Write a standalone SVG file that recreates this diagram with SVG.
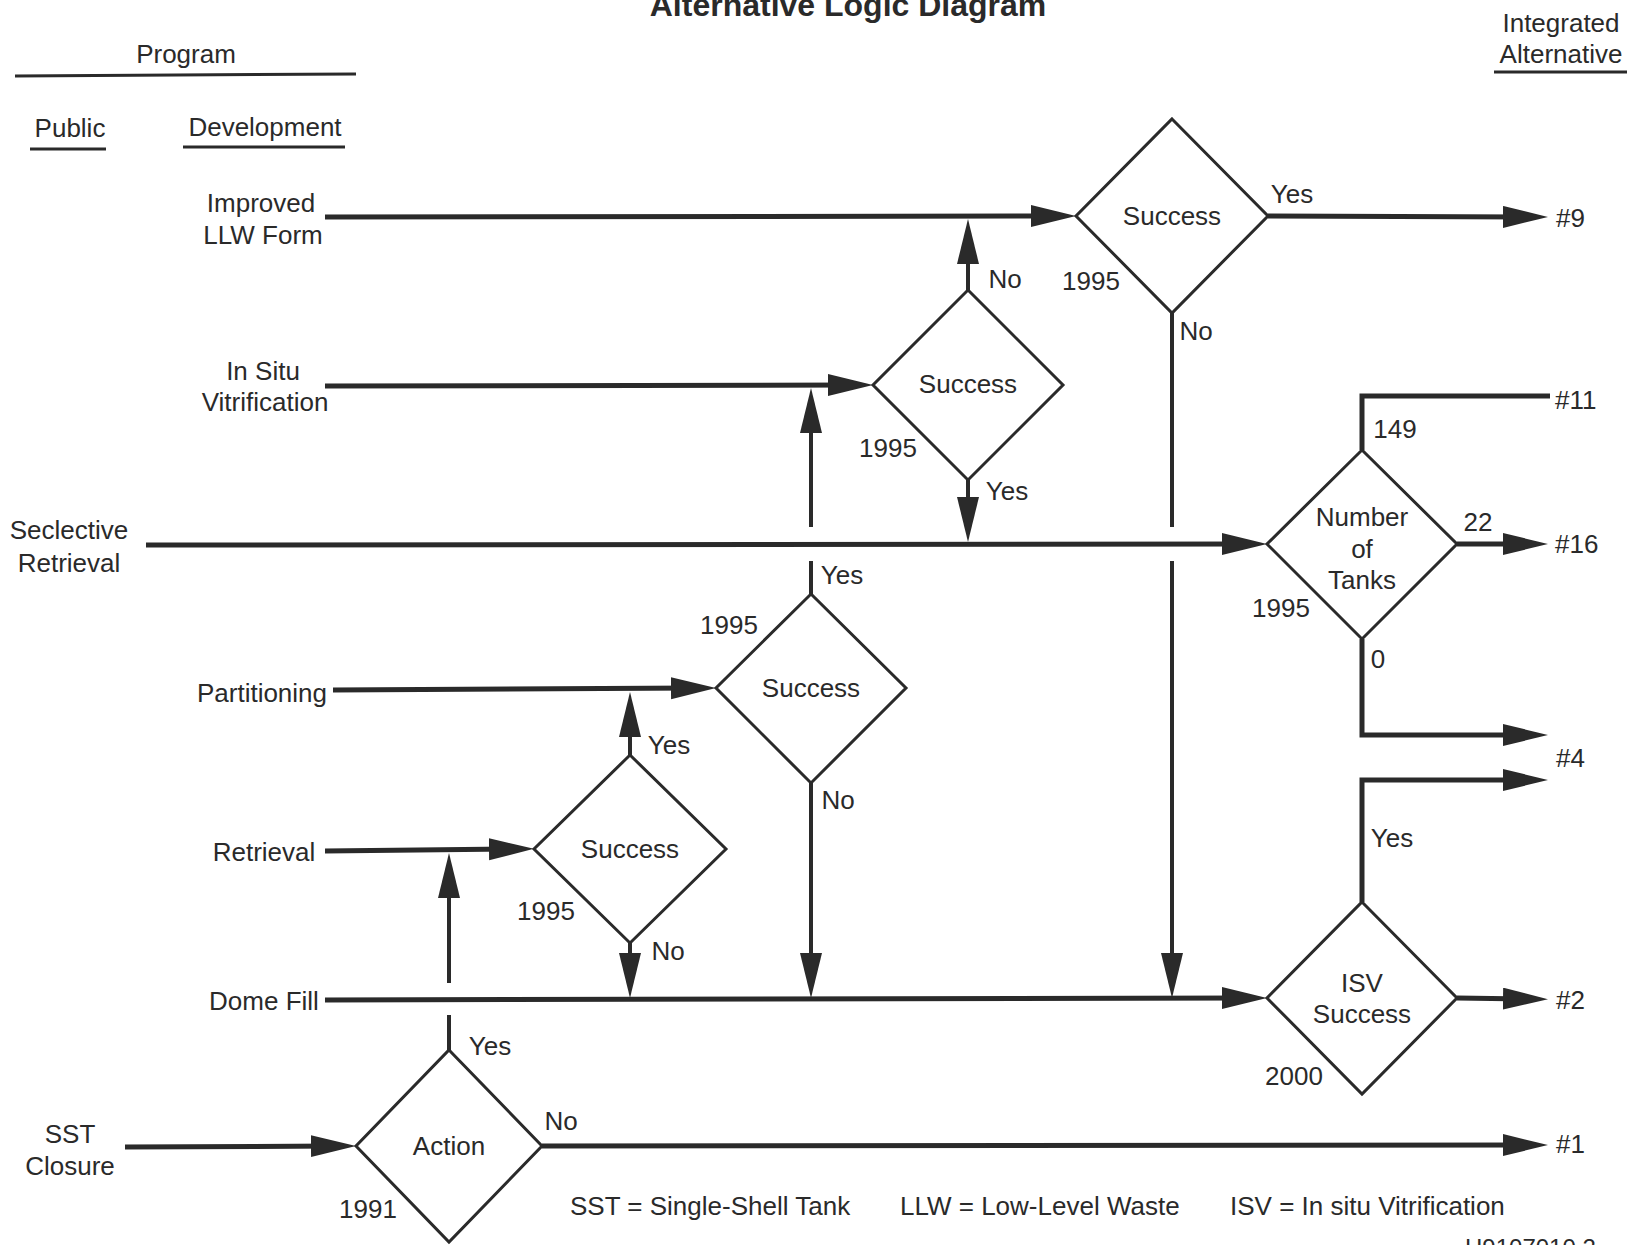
<svg xmlns="http://www.w3.org/2000/svg" width="1634" height="1245" viewBox="0 0 1634 1245">
  <style>
    text { font-family: "Liberation Sans", Arial, sans-serif; font-size: 26px; fill: #2a2a2a; }
    .c { text-anchor: middle; }
    .title { font-size: 32px; font-weight: bold; }
    .id { font-size: 24px; }
    .dia { fill: #fff; stroke: #2a2a2a; stroke-width: 3; stroke-linejoin: miter; }
    .h { fill: none; stroke: #2a2a2a; stroke-width: 5; }
    .v { fill: none; stroke: #2a2a2a; stroke-width: 4; }
    .rule { stroke: #2a2a2a; stroke-width: 3; }
  </style>
  <defs>
    <!-- solid arrowhead; tip lies 20px beyond the line end -->
    <marker id="arrow" markerUnits="userSpaceOnUse" markerWidth="46" markerHeight="24" refX="25" refY="11" orient="auto">
      <path d="M0,0 L45,11 L0,22 z" fill="#2a2a2a"/>
    </marker>
  </defs>
  <rect width="1634" height="1245" fill="#fff"/>

  <!-- headings -->
  <g id="header">
    <text class="title c" x="848" y="16">Alternative Logic Diagram</text>
    <text class="c" x="186" y="63">Program</text>
    <line class="rule" x1="15" y1="76" x2="356" y2="74"/>
    <text class="c" x="70" y="137">Public</text>
    <line class="rule" x1="30" y1="149" x2="106" y2="149"/>
    <text class="c" x="265" y="136">Development</text>
    <line class="rule" x1="183" y1="147" x2="345" y2="147"/>
    <text class="c" x="1561" y="32">Integrated</text>
    <text class="c" x="1561" y="63">Alternative</text>
    <line class="rule" x1="1494" y1="72" x2="1627" y2="72"/>
  </g>

  <!-- program labels -->
  <g id="programs">
    <text class="c" x="261" y="212">Improved</text>
    <text class="c" x="263" y="244">LLW Form</text>
    <text class="c" x="263" y="380">In Situ</text>
    <text class="c" x="265" y="411">Vitrification</text>
    <text class="c" x="69" y="539">Seclective</text>
    <text class="c" x="69" y="572">Retrieval</text>
    <text class="c" x="262" y="702">Partitioning</text>
    <text class="c" x="264" y="861">Retrieval</text>
    <text class="c" x="264" y="1010">Dome Fill</text>
    <text class="c" x="70" y="1143">SST</text>
    <text class="c" x="70" y="1175">Closure</text>
  </g>

  <!-- connectors -->
  <g id="connectors">
    <!-- horizontal program lines -->
    <line class="h" x1="325" y1="217" x2="1056" y2="216" marker-end="url(#arrow)"/>
    <line class="h" x1="1268" y1="216" x2="1528" y2="217" marker-end="url(#arrow)"/>
    <line class="h" x1="325" y1="386" x2="853" y2="385" marker-end="url(#arrow)"/>
    <line class="h" x1="146" y1="545" x2="1247" y2="544" marker-end="url(#arrow)"/>
    <line class="h" x1="1457" y1="544" x2="1528" y2="544" marker-end="url(#arrow)"/>
    <line class="h" x1="333" y1="690" x2="696" y2="688" marker-end="url(#arrow)"/>
    <line class="h" x1="325" y1="851" x2="514" y2="849" marker-end="url(#arrow)"/>
    <line class="h" x1="325" y1="1000" x2="1247" y2="998" marker-end="url(#arrow)"/>
    <line class="h" x1="1457" y1="998" x2="1528" y2="999" marker-end="url(#arrow)"/>
    <line class="h" x1="125" y1="1147" x2="336" y2="1146" marker-end="url(#arrow)"/>
    <line class="h" x1="542" y1="1146" x2="1528" y2="1145" marker-end="url(#arrow)"/>
    <!-- number-of-tanks branches -->
    <polyline class="h" points="1362,450 1362,396 1550,396"/>
    <polyline class="h" points="1362,639 1362,735 1528,735" marker-end="url(#arrow)"/>
    <!-- ISV success yes branch -->
    <polyline class="h" points="1362,902 1362,780 1528,780" marker-end="url(#arrow)"/>

    <!-- vertical links -->
    <line class="v" x1="968" y1="290" x2="968" y2="239" marker-end="url(#arrow)"/>
    <line class="v" x1="968" y1="480" x2="968" y2="522" marker-end="url(#arrow)"/>
    <line class="v" x1="1172" y1="313" x2="1172" y2="527"/>
    <line class="v" x1="1172" y1="561" x2="1172" y2="978" marker-end="url(#arrow)"/>
    <line class="v" x1="811" y1="527" x2="811" y2="408" marker-end="url(#arrow)"/>
    <line class="v" x1="811" y1="561" x2="811" y2="594"/>
    <line class="v" x1="811" y1="783" x2="811" y2="978" marker-end="url(#arrow)"/>
    <line class="v" x1="630" y1="755" x2="630" y2="712" marker-end="url(#arrow)"/>
    <line class="v" x1="630" y1="943" x2="630" y2="978" marker-end="url(#arrow)"/>
    <line class="v" x1="449" y1="983" x2="449" y2="873" marker-end="url(#arrow)"/>
    <line class="v" x1="449" y1="1015" x2="449" y2="1050"/>
  </g>

  <!-- decision: LLW form success -->
  <g id="llw-success">
    <polygon class="dia" points="1172,119 1268,216 1172,313 1076,216"/>
    <text class="c" x="1172" y="225">Success</text>
    <text class="c" x="1091" y="290">1995</text>
    <text class="c" x="1292" y="203">Yes</text>
    <text class="c" x="1196" y="340">No</text>
  </g>

  <!-- decision: in situ vitrification success -->
  <g id="isv-dev-success">
    <polygon class="dia" points="968,290 1063,385 968,480 873,385"/>
    <text class="c" x="968" y="393">Success</text>
    <text class="c" x="888" y="457">1995</text>
    <text class="c" x="1005" y="288">No</text>
    <text class="c" x="1007" y="500">Yes</text>
  </g>

  <!-- decision: partitioning success -->
  <g id="partitioning-success">
    <polygon class="dia" points="811,594 906,688 811,783 716,688"/>
    <text class="c" x="811" y="697">Success</text>
    <text class="c" x="729" y="634">1995</text>
    <text class="c" x="842" y="584">Yes</text>
    <text class="c" x="838" y="809">No</text>
  </g>

  <!-- decision: retrieval success -->
  <g id="retrieval-success">
    <polygon class="dia" points="630,755 726,849 630,943 534,849"/>
    <text class="c" x="630" y="858">Success</text>
    <text class="c" x="546" y="920">1995</text>
    <text class="c" x="669" y="754">Yes</text>
    <text class="c" x="668" y="960">No</text>
  </g>

  <!-- decision: action -->
  <g id="action">
    <polygon class="dia" points="449,1050 542,1146 449,1242 356,1146"/>
    <text class="c" x="449" y="1155">Action</text>
    <text class="c" x="368" y="1218">1991</text>
    <text class="c" x="490" y="1055">Yes</text>
    <text class="c" x="561" y="1130">No</text>
  </g>

  <!-- decision: number of tanks -->
  <g id="number-of-tanks">
    <polygon class="dia" points="1362,450 1457,544 1362,639 1267,544"/>
    <text class="c" x="1362" y="526">Number</text>
    <text class="c" x="1362" y="558">of</text>
    <text class="c" x="1362" y="589">Tanks</text>
    <text class="c" x="1281" y="617">1995</text>
    <text class="c" x="1395" y="438">149</text>
    <text class="c" x="1478" y="531">22</text>
    <text class="c" x="1378" y="668">0</text>
  </g>

  <!-- decision: ISV success -->
  <g id="isv-success">
    <polygon class="dia" points="1362,902 1457,998 1362,1094 1267,998"/>
    <text class="c" x="1362" y="992">ISV</text>
    <text class="c" x="1362" y="1023">Success</text>
    <text class="c" x="1294" y="1085">2000</text>
    <text class="c" x="1392" y="847">Yes</text>
  </g>

  <!-- integrated alternatives -->
  <g id="alternatives">
    <text x="1556" y="227">#9</text>
    <text x="1555" y="409">#11</text>
    <text x="1555" y="553">#16</text>
    <text x="1556" y="767">#4</text>
    <text x="1556" y="1009">#2</text>
    <text x="1556" y="1153">#1</text>
  </g>

  <!-- abbreviations -->
  <g id="legend">
    <text x="570" y="1215">SST = Single-Shell Tank</text>
    <text x="900" y="1215">LLW = Low-Level Waste</text>
    <text x="1230" y="1215">ISV = In situ Vitrification</text>
    <text class="id" x="1465" y="1256">H9107010.2</text>
  </g>
</svg>
